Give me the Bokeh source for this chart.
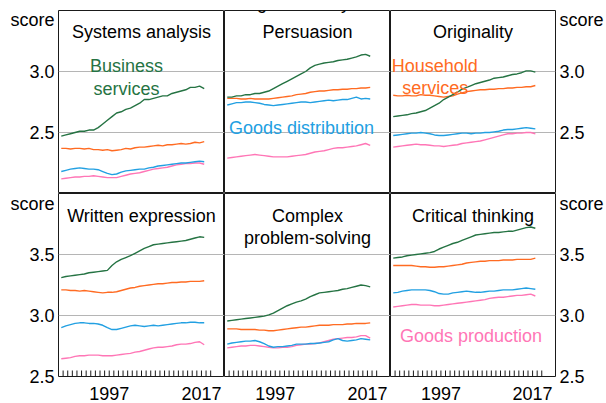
import math
from bokeh.plotting import figure
from bokeh.layouts import gridplot
from bokeh.models import Range1d, FixedTicker, LinearAxis, PrintfTickFormatter, Label, Grid
from bokeh.embed import file_html
from bokeh.resources import INLINE

FONT = "Liberation Sans"
FS = "18px"

# ---------------- data ----------------
years = [1986.6, 1987.6, 1988.6, 1989.6, 1990.6, 1991.6, 1992.6, 1993.6,
         1994.6, 1995.6, 1996.6, 1997.6, 1998.6, 1999.6, 2000.6, 2001.6,
         2002.6, 2003.6, 2004.6, 2005.6, 2006.6, 2007.6, 2008.6, 2009.6,
         2010.6, 2011.6, 2012.6, 2013.6, 2014.6, 2015.6, 2016.6, 2017.6]

sectors = ["Goods production", "Goods distribution", "Household services", "Business services"]
colors = {"Business services": "#257343", "Household services": "#ff6b22",
          "Goods distribution": "#22a0e2", "Goods production": "#ff76b6"}

systems_business = [2.47, 2.48, 2.49, 2.50, 2.51, 2.51, 2.52, 2.52, 2.54, 2.57, 2.60, 2.63, 2.66, 2.67, 2.69, 2.70,
                    2.72, 2.74, 2.77, 2.77, 2.78, 2.79, 2.80, 2.80, 2.82, 2.83, 2.84, 2.85, 2.87, 2.87, 2.88, 2.86]
systems_household = [2.37, 2.37, 2.365, 2.37, 2.37, 2.365, 2.37, 2.36, 2.36, 2.355, 2.36, 2.35, 2.355, 2.36, 2.37, 2.365,
                     2.375, 2.38, 2.38, 2.385, 2.39, 2.395, 2.39, 2.40, 2.40, 2.405, 2.41, 2.405, 2.41, 2.42, 2.415, 2.425]
systems_distribution = [2.18, 2.19, 2.20, 2.205, 2.21, 2.205, 2.20, 2.20, 2.195, 2.18, 2.165, 2.155, 2.16, 2.175, 2.185, 2.19,
                        2.195, 2.20, 2.20, 2.21, 2.215, 2.225, 2.23, 2.235, 2.24, 2.245, 2.25, 2.25, 2.255, 2.26, 2.265, 2.26]
systems_production = [2.12, 2.125, 2.13, 2.135, 2.135, 2.14, 2.14, 2.145, 2.14, 2.135, 2.13, 2.13, 2.13, 2.14, 2.15, 2.16,
                      2.165, 2.17, 2.18, 2.19, 2.20, 2.205, 2.21, 2.215, 2.225, 2.235, 2.24, 2.245, 2.245, 2.25, 2.25, 2.24]

persuasion_business = [2.79, 2.79, 2.80, 2.80, 2.81, 2.81, 2.82, 2.82, 2.83, 2.84, 2.86, 2.88, 2.90, 2.92, 2.94, 2.96,
                       2.98, 3.00, 3.03, 3.05, 3.06, 3.07, 3.075, 3.08, 3.09, 3.095, 3.10, 3.11, 3.12, 3.135, 3.14, 3.125]
persuasion_household = [2.78, 2.78, 2.78, 2.775, 2.775, 2.78, 2.775, 2.775, 2.775, 2.775, 2.78, 2.785, 2.79, 2.795, 2.80, 2.81,
                        2.815, 2.82, 2.83, 2.835, 2.84, 2.84, 2.845, 2.85, 2.85, 2.855, 2.855, 2.86, 2.86, 2.865, 2.865, 2.87]
persuasion_distribution = [2.725, 2.735, 2.745, 2.745, 2.75, 2.75, 2.745, 2.74, 2.73, 2.725, 2.72, 2.725, 2.73, 2.735, 2.74, 2.745,
                           2.75, 2.75, 2.745, 2.75, 2.755, 2.76, 2.765, 2.76, 2.765, 2.77, 2.77, 2.78, 2.79, 2.775, 2.78, 2.775]
persuasion_production = [2.29, 2.295, 2.30, 2.305, 2.31, 2.315, 2.32, 2.315, 2.31, 2.305, 2.30, 2.30, 2.30, 2.30, 2.305, 2.31,
                         2.315, 2.32, 2.33, 2.34, 2.345, 2.35, 2.36, 2.37, 2.375, 2.375, 2.38, 2.385, 2.39, 2.40, 2.41, 2.395]

originality_business = [2.63, 2.635, 2.64, 2.645, 2.655, 2.66, 2.67, 2.68, 2.70, 2.72, 2.74, 2.77, 2.79, 2.81, 2.83, 2.855,
                        2.87, 2.885, 2.90, 2.91, 2.92, 2.93, 2.945, 2.95, 2.955, 2.965, 2.975, 2.98, 2.99, 3.005, 3.005, 2.995]
originality_household = [2.805, 2.80, 2.80, 2.805, 2.80, 2.80, 2.81, 2.805, 2.805, 2.80, 2.795, 2.79, 2.795, 2.80, 2.815, 2.825,
                         2.835, 2.84, 2.845, 2.85, 2.85, 2.855, 2.855, 2.86, 2.86, 2.865, 2.865, 2.87, 2.87, 2.875, 2.875, 2.885]
originality_distribution = [2.475, 2.48, 2.485, 2.49, 2.495, 2.495, 2.50, 2.495, 2.49, 2.48, 2.475, 2.475, 2.48, 2.485, 2.49, 2.495,
                            2.495, 2.49, 2.495, 2.495, 2.50, 2.50, 2.505, 2.51, 2.52, 2.525, 2.525, 2.53, 2.535, 2.54, 2.535, 2.53]
originality_production = [2.38, 2.385, 2.39, 2.395, 2.40, 2.405, 2.40, 2.40, 2.395, 2.39, 2.39, 2.385, 2.39, 2.395, 2.40, 2.41,
                          2.415, 2.42, 2.425, 2.43, 2.44, 2.45, 2.46, 2.47, 2.48, 2.49, 2.49, 2.495, 2.495, 2.50, 2.50, 2.49]

written_business = [3.31, 3.32, 3.325, 3.33, 3.335, 3.34, 3.35, 3.355, 3.36, 3.365, 3.37, 3.41, 3.44, 3.46, 3.475, 3.49,
                    3.51, 3.53, 3.55, 3.565, 3.58, 3.585, 3.59, 3.595, 3.60, 3.605, 3.61, 3.615, 3.625, 3.635, 3.645, 3.64]
written_household = [3.21, 3.21, 3.205, 3.205, 3.20, 3.205, 3.20, 3.195, 3.19, 3.185, 3.19, 3.19, 3.195, 3.205, 3.215, 3.225,
                     3.23, 3.24, 3.245, 3.25, 3.255, 3.26, 3.26, 3.265, 3.27, 3.27, 3.275, 3.275, 3.28, 3.28, 3.28, 3.285]
written_distribution = [2.90, 2.915, 2.925, 2.935, 2.94, 2.94, 2.935, 2.935, 2.93, 2.92, 2.90, 2.885, 2.885, 2.895, 2.905, 2.915,
                        2.92, 2.915, 2.91, 2.915, 2.92, 2.915, 2.92, 2.925, 2.93, 2.935, 2.94, 2.94, 2.945, 2.945, 2.94, 2.94]
written_production = [2.645, 2.65, 2.655, 2.665, 2.67, 2.67, 2.675, 2.675, 2.675, 2.67, 2.67, 2.67, 2.675, 2.68, 2.685, 2.69,
                      2.70, 2.705, 2.715, 2.725, 2.735, 2.74, 2.74, 2.745, 2.75, 2.76, 2.765, 2.765, 2.77, 2.78, 2.785, 2.76]

complex_business = [2.955, 2.96, 2.965, 2.97, 2.975, 2.98, 2.985, 2.99, 2.995, 3.005, 3.02, 3.04, 3.06, 3.08, 3.095, 3.11,
                    3.12, 3.135, 3.155, 3.17, 3.185, 3.19, 3.195, 3.20, 3.205, 3.215, 3.22, 3.23, 3.24, 3.25, 3.245, 3.235]
complex_household = [2.89, 2.89, 2.89, 2.885, 2.885, 2.885, 2.885, 2.88, 2.88, 2.875, 2.875, 2.88, 2.885, 2.89, 2.895, 2.90,
                     2.905, 2.905, 2.91, 2.915, 2.92, 2.92, 2.92, 2.925, 2.925, 2.925, 2.93, 2.93, 2.935, 2.935, 2.935, 2.94]
complex_distribution = [2.765, 2.775, 2.78, 2.785, 2.79, 2.79, 2.795, 2.785, 2.77, 2.75, 2.74, 2.745, 2.745, 2.75, 2.755, 2.765,
                        2.765, 2.765, 2.77, 2.77, 2.775, 2.78, 2.785, 2.80, 2.81, 2.795, 2.79, 2.795, 2.80, 2.81, 2.805, 2.80]
complex_production = [2.735, 2.74, 2.745, 2.75, 2.75, 2.755, 2.755, 2.75, 2.745, 2.74, 2.735, 2.735, 2.74, 2.74, 2.745, 2.755,
                      2.76, 2.765, 2.765, 2.77, 2.775, 2.785, 2.795, 2.805, 2.81, 2.815, 2.82, 2.82, 2.825, 2.835, 2.835, 2.815]

critical_business = [3.47, 3.475, 3.48, 3.49, 3.495, 3.50, 3.505, 3.51, 3.515, 3.525, 3.545, 3.56, 3.575, 3.59, 3.60, 3.615,
                     3.63, 3.645, 3.66, 3.665, 3.67, 3.675, 3.68, 3.68, 3.685, 3.69, 3.69, 3.70, 3.71, 3.72, 3.725, 3.715]
critical_household = [3.41, 3.41, 3.41, 3.41, 3.41, 3.405, 3.40, 3.40, 3.395, 3.395, 3.40, 3.40, 3.405, 3.41, 3.415, 3.42,
                      3.43, 3.435, 3.44, 3.445, 3.445, 3.45, 3.45, 3.45, 3.455, 3.455, 3.455, 3.46, 3.46, 3.46, 3.46, 3.47]
critical_distribution = [3.185, 3.19, 3.20, 3.205, 3.21, 3.21, 3.21, 3.21, 3.205, 3.195, 3.18, 3.175, 3.175, 3.185, 3.19, 3.195,
                         3.20, 3.195, 3.19, 3.19, 3.195, 3.20, 3.20, 3.205, 3.21, 3.21, 3.21, 3.215, 3.22, 3.225, 3.22, 3.215]
critical_production = [3.07, 3.075, 3.08, 3.085, 3.09, 3.09, 3.085, 3.085, 3.085, 3.08, 3.08, 3.085, 3.09, 3.095, 3.10, 3.105,
                       3.11, 3.115, 3.12, 3.125, 3.13, 3.14, 3.145, 3.15, 3.15, 3.155, 3.16, 3.165, 3.165, 3.17, 3.175, 3.16]

panel_titles = [["Systems analysis"], ["Persuasion"], ["Originality"],
                ["Written expression"], ["Complex", "problem-solving"], ["Critical thinking"]]
panel_series = [
    {"Business services": systems_business, "Household services": systems_household,
     "Goods distribution": systems_distribution, "Goods production": systems_production},
    {"Business services": persuasion_business, "Household services": persuasion_household,
     "Goods distribution": persuasion_distribution, "Goods production": persuasion_production},
    {"Business services": originality_business, "Household services": originality_household,
     "Goods distribution": originality_distribution, "Goods production": originality_production},
    {"Business services": written_business, "Household services": written_household,
     "Goods distribution": written_distribution, "Goods production": written_production},
    {"Business services": complex_business, "Household services": complex_household,
     "Goods distribution": complex_distribution, "Goods production": complex_production},
    {"Business services": critical_business, "Household services": critical_household,
     "Goods distribution": critical_distribution, "Goods production": critical_production},
]
row_ranges = [(2.0, 3.5), (2.5, 4.0)]
row_ticks = [[2.5, 3.0], [2.5, 3.0, 3.5]]
row_grid = [[2.5, 3.0], [3.0, 3.5]]
row_unit_pos = [3.42, 3.92]
x_label_years = [1997, 2017]
year_ticks = list(range(1987, 2020))
title_text = "Average score by sector"

# ---------------- layout ----------------
FW, FH = 166, 183
X0, X1 = 1986.0, 2022.0
PX_X = (X1 - X0) / FW
PX_Y = 1.5 / FH


def xd(off):
    return X0 + off * PX_X


def yd(row, off):
    return row_ranges[row][1] - off * PX_Y


# in-panel labels: (panel index, text, color, x offset px, baseline offset px)
series_labels = [
    (0, "Business", colors["Business services"], 68, 55.7),
    (0, "services", colors["Business services"], 68, 78.3),
    (1, "Goods distribution", colors["Goods distribution"], 77, 117.7),
    (2, "Household", colors["Household services"], 44.6, 55),
    (2, "services", colors["Household services"], 45.1, 77.3),
    (5, "Goods production", colors["Goods production"], 81, 142.7),
]

figs = []
for idx in range(6):
    row, col = divmod(idx, 3)
    lb = 58 if col == 0 else 0
    rb = 50 if col == 2 else 0
    tb = 10 if row == 0 else 0
    bb = 31 if row == 1 else 0
    p = figure(width=FW + lb + rb, height=FH + tb + bb,
               x_range=Range1d(X0, X1), y_range=Range1d(*row_ranges[row]),
               x_axis_location=None, y_axis_location=None,
               toolbar_location=None, output_backend="svg",
               min_border=0, min_border_left=lb, min_border_right=rb,
               min_border_top=tb, min_border_bottom=bb)
    p.center = []
    p.outline_line_color = "#1a1a1a"
    p.outline_line_width = 1
    p.background_fill_color = "white"
    p.border_fill_color = "white"
    p.add_layout(Grid(dimension=1, ticker=FixedTicker(ticks=row_grid[row]),
                      grid_line_color="#b5b5b5", grid_line_width=1), "center")

    for s in sectors:
        p.line(years, panel_series[idx][s], line_color=colors[s], line_width=1.4)

    if col in (0, 2):
        ticks = row_ticks[row] + [row_unit_pos[row]]
        ax = LinearAxis(ticker=FixedTicker(ticks=ticks),
                        formatter=PrintfTickFormatter(format="%.1f"),
                        major_label_overrides={row_unit_pos[row]: "score"},
                        major_tick_in=0, major_tick_out=0, minor_tick_in=0, minor_tick_out=0,
                        axis_line_color=None, major_label_standoff=4,
                        major_label_text_font=FONT, major_label_text_font_size=FS,
                        major_label_text_color="black")
        p.add_layout(ax, "left" if col == 0 else "right")

    if row == 1:
        xa = LinearAxis(ticker=FixedTicker(ticks=x_label_years),
                        formatter=PrintfTickFormatter(format="%d"),
                        major_tick_in=0, major_tick_out=0, minor_tick_in=0, minor_tick_out=0,
                        axis_line_color=None, major_label_standoff=10,
                        major_label_text_font=FONT, major_label_text_font_size=FS,
                        major_label_text_color="black")
        p.add_layout(xa, "below")
        # yearly tick marks standing on the bottom edge, pointing into the panel
        p.ray(x=year_ticks, y=[row_ranges[row][0]] * len(year_ticks), length=6,
              length_units="screen", angle=math.pi / 2, line_color="#1a1a1a", line_width=1)

    title_offsets = [21.5, 44.2]
    for k, line in enumerate(panel_titles[idx]):
        p.add_layout(Label(x=xd(83), y=yd(row, title_offsets[k] + (0.5 if row == 1 else 0)), text=line,
                           text_align="center", text_baseline="alphabetic",
                           text_font=FONT, text_font_size=FS, text_color="black"))

    for (pi, txt, c, xo, yo) in series_labels:
        if pi == idx:
            p.add_layout(Label(x=xd(xo), y=yd(row, yo), text=txt, text_align="center",
                               text_baseline="alphabetic", text_font=FONT,
                               text_font_size=FS, text_color=c))
    if idx == 1:
        p.add_layout(Label(x=xd(82.7), y=yd(0, -7.5), text=title_text, text_align="center",
                           text_baseline="alphabetic", text_font=FONT, text_font_size=FS,
                           text_color="black"))
    figs.append(p)

grid = gridplot([figs[0:3], figs[3:6]], toolbar_location=None)
grid.spacing = 0

open("out.html", "w").write(file_html(grid, INLINE))
